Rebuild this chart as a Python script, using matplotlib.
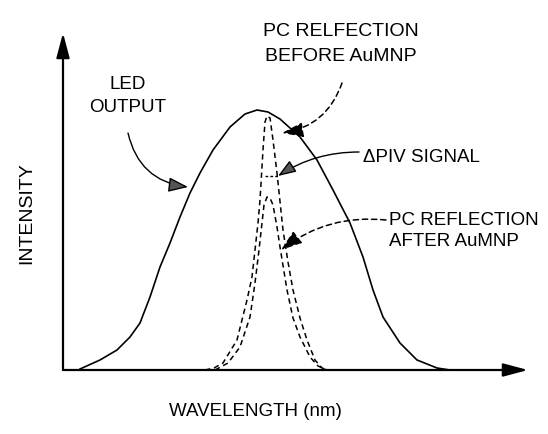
import matplotlib
matplotlib.use("Agg")
import matplotlib.pyplot as plt

plt.rcParams["font.family"] = ["Liberation Sans", "DejaVu Sans"]

# wavelength / intensity in arbitrary units
led_wl = [17, 37, 54, 67, 77, 87, 97, 107, 117, 127, 137, 150, 167, 182,
          194, 205, 217, 227, 237, 254, 270, 287, 300, 310, 320, 337, 354,
          374, 387]
led_int = [1, 10, 20, 33, 47, 73, 103, 127, 153, 177, 197, 220, 243, 256,
           260, 258, 251, 242, 233, 210, 180, 147, 113, 80, 53, 27, 10,
           2, 0]

before_wl = [142, 151, 160, 174, 184, 189, 192, 195, 197, 200, 202, 204,
             207, 210, 214, 220, 225, 230, 237, 244, 252, 259, 265]
before_int = [0, 2, 7, 30, 70, 93, 120, 147, 170, 220, 248, 254,
              252, 230, 197, 140, 108, 80, 52, 30, 10, 2, 0]

after_wl = [152, 165, 177, 187, 192, 196, 199, 201, 204, 207, 210, 214,
            217, 224, 230, 237, 247, 255, 264]
after_int = [0, 7, 23, 53, 87, 120, 147, 165, 173, 172, 165, 143,
             123, 80, 52, 33, 13, 4, 0]

x_label = "WAVELENGTH (nm)"
y_label = "INTENSITY"
led_label = "LED\nOUTPUT"
before_label = "PC RELFECTION\nBEFORE AuMNP"
delta_label = "\u0394PIV SIGNAL"
after_label = "PC REFLECTION\nAFTER AuMNP"

fig = plt.figure(figsize=(5.48, 4.34), dpi=100)
ax = fig.add_axes([63 / 548, 64 / 434, 465 / 548, 337 / 434])
ax.set_xlim(0, 465)
ax.set_ylim(0, 337)
ax.axis("off")

# axes drawn as arrows
axis_arrow = dict(arrowstyle="-|>,head_length=1.5,head_width=0.4",
                  lw=1.6, color="black", shrinkA=0, shrinkB=0)
ax.annotate("", xy=(1, 0), xytext=(0, 0), xycoords="axes fraction",
            arrowprops=axis_arrow, annotation_clip=False)
ax.annotate("", xy=(0, 1), xytext=(0, 0), xycoords="axes fraction",
            arrowprops=axis_arrow, annotation_clip=False)

ax.plot(led_wl, led_int, color="black", lw=1.2, solid_joinstyle="round")
ax.plot(before_wl, before_int, color="black", lw=1.1, dashes=(3.5, 2.5))
ax.plot(after_wl, after_int, color="black", lw=1.1, dashes=(3.5, 2.5))

ax.text(65, 274, led_label, fontsize=13.5, ha="center", va="center",
        linespacing=1.45)
ax.annotate("", xy=(125, 183), xytext=(65, 237),
            arrowprops=dict(arrowstyle="-|>,head_length=1.2,head_width=0.45",
                            lw=1.0, color="black", fc="#555555",
                            connectionstyle="arc3,rad=0.35",
                            shrinkA=0, shrinkB=0))

ax.text(278, 326, before_label, fontsize=14, ha="center", va="center",
        linespacing=1.6, clip_on=False)
ax.annotate("", xy=(219, 237), xytext=(279, 287),
            arrowprops=dict(arrowstyle="-|>,head_length=1.3,head_width=0.45",
                            lw=1.1, color="black", linestyle=(0, (3.5, 2.5)),
                            connectionstyle="arc3,rad=-0.3",
                            shrinkA=0, shrinkB=0))

ax.text(300, 213, delta_label, fontsize=13.5, ha="left", va="center")
ax.plot([202, 216], [194, 194], color="black", lw=1.0, dashes=(2, 1.5))
ax.annotate("", xy=(215, 194), xytext=(296, 218),
            arrowprops=dict(arrowstyle="-|>,head_length=1.1,head_width=0.4",
                            lw=1.0, color="black", fc="#555555",
                            connectionstyle="arc3,rad=0.15",
                            shrinkA=0, shrinkB=0))

ax.text(326, 139, after_label, fontsize=13.5, ha="left", va="center",
        linespacing=1.35, clip_on=False)
ax.annotate("", xy=(218, 120), xytext=(323, 150),
            arrowprops=dict(arrowstyle="-|>,head_length=1.3,head_width=0.45",
                            lw=1.1, color="black", linestyle=(0, (3.5, 2.5)),
                            connectionstyle="arc3,rad=0.2",
                            shrinkA=0, shrinkB=0))

fig.text(255 / 548, 1 - 411 / 434, x_label, fontsize=13.5, ha="center",
         va="center")
fig.text(27 / 548, 1 - 213 / 434, y_label, fontsize=14, ha="center",
         va="center", rotation=90)

fig.savefig("out.png", dpi=100)
